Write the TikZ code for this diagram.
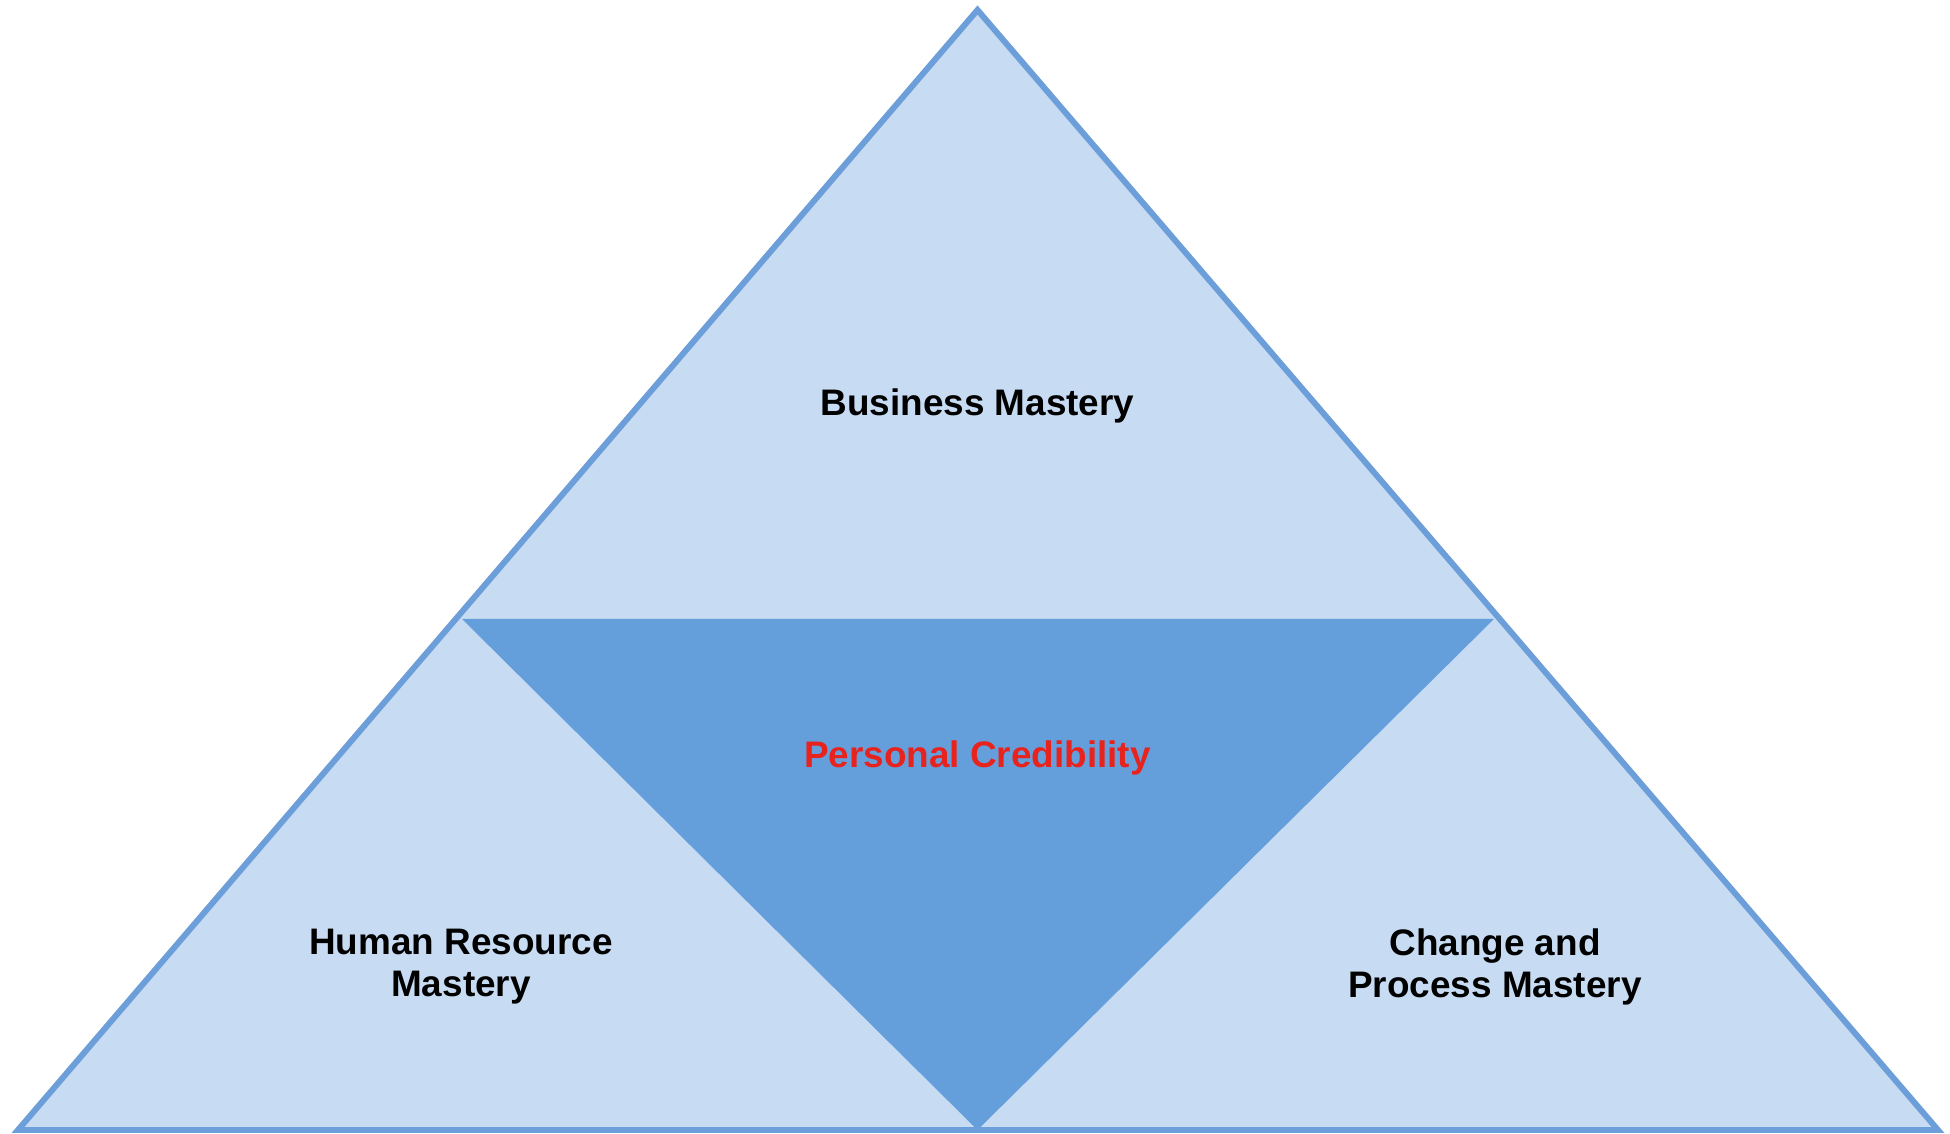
\documentclass[tikz,border=0pt]{standalone}
\usepackage{fontspec}
\setmainfont{Liberation Sans}
\usetikzlibrary{positioning}
\definecolor{lightblue}{HTML}{C7DCF3}
\definecolor{darkblue}{HTML}{659FDB}
\definecolor{edgeblue}{HTML}{6C9FD9}
\definecolor{credred}{HTML}{E8231E}

\begin{document}
\begin{tikzpicture}[label/.style={align=center,font=\fontsize{10.5}{12}\selectfont\bfseries},
                    outer/.style={draw=edgeblue,line width=1.7pt,line join=miter}]
\useasboundingbox (0,0) rectangle (19.5,11.34);
\coordinate (top) at (9.775,11.24);
\coordinate (bl) at (0.18,0.04);
\coordinate (br) at (19.38,0.04);
\coordinate (ml) at (4.62,5.15);
\coordinate (mr) at (14.94,5.15);
\coordinate (bm) at (9.775,0.04);

\fill[lightblue] (top) -- (bl) -- (br) -- cycle;
\fill[darkblue] (ml) -- (mr) -- (bm) -- cycle;
\draw[outer] (top) -- (bl) -- (br) -- cycle;

\node[label] at (9.775,7.28) (business) {Business Mastery};
\node[label,text=credred] at (9.775,3.76) (personal) {Personal Credibility};
\node[label] at (4.61,1.67) (human) {Human Resource\\Mastery};
\node[label] at (14.95,1.67) (change) {Change and\\Process Mastery};
\end{tikzpicture}
\end{document}
